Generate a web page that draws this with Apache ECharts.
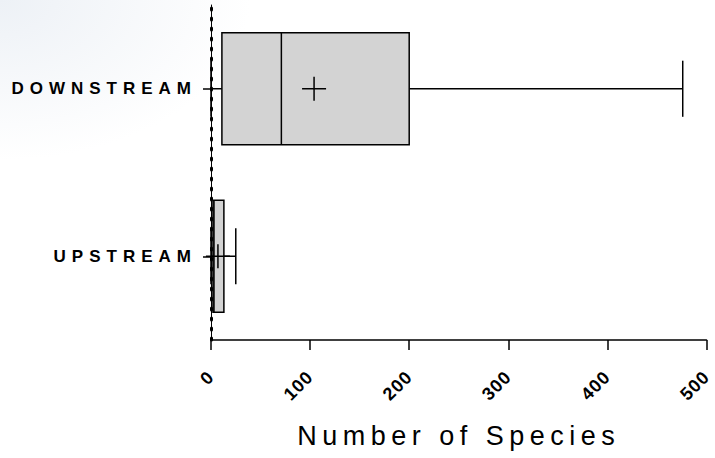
<!DOCTYPE html>
<html>
<head>
<meta charset="utf-8">
<script src="https://cdn.jsdelivr.net/npm/echarts@6/dist/echarts.min.js"></script>
<style>
    html, body { margin: 0; padding: 0; background: #fff; }
    #chart { width: 715px; height: 458px; }
</style>
</head>
<body>
<div id="chart"></div>
<script>
    // box plot values
    const categories = ['DOWNSTREAM', 'UPSTREAM']
    const minVals = [0, 0]
    const q1Vals = [11, 2]
    const medianVals = [71, 3]
    const q3Vals = [200, 13]
    const maxVals = [476, 25]
    const meanVals = [104, 7]
    const xTicks = [0, 100, 200, 300, 400, 500]

    // letter spacing the original uses, applied to the svg text afterwards
    const spacing = {
        'DOWNSTREAM': 6,
        'UPSTREAM': 6,
        'Number of Species': 5.5
    }

    const data = categories.map((c, i) => [i, minVals[i], q1Vals[i], medianVals[i], q3Vals[i], maxVals[i], meanVals[i]])

    const chartDom = document.getElementById('chart')
    const myChart = echarts.init(chartDom, null, { renderer: 'svg' })

    function renderBox(params, api) {
        const cat = api.value(0)
        const band = api.size([0, 1])[1]
        const boxH = band * 0.67
        const capH = boxH / 2
        const y = api.coord([0, cat])[1]
        const px = (v) => api.coord([v, cat])[0]
        const xMin = px(api.value(1))
        const xQ1 = px(api.value(2))
        const xMed = px(api.value(3))
        const xQ3 = px(api.value(4))
        const xMax = px(api.value(5))
        const xMean = px(api.value(6))
        const line = { stroke: '#000', lineWidth: 1.5, fill: null }
        const cross = 12
        return {
            type: 'group',
            children: [
                { type: 'line', shape: { x1: xMin, y1: y, x2: xQ1, y2: y }, style: line },
                { type: 'line', shape: { x1: xQ3, y1: y, x2: xMax, y2: y }, style: line },
                { type: 'line', shape: { x1: xMin, y1: y - capH / 2, x2: xMin, y2: y + capH / 2 }, style: line },
                { type: 'line', shape: { x1: xMax, y1: y - capH / 2, x2: xMax, y2: y + capH / 2 }, style: line },
                {
                    type: 'rect',
                    shape: { x: xQ1, y: y - boxH / 2, width: xQ3 - xQ1, height: boxH },
                    style: { fill: '#d3d3d3', stroke: '#000', lineWidth: 1.5 }
                },
                { type: 'line', shape: { x1: xMed, y1: y - boxH / 2, x2: xMed, y2: y + boxH / 2 }, style: line },
                { type: 'line', shape: { x1: xMean - cross, y1: y, x2: xMean + cross, y2: y }, style: line },
                { type: 'line', shape: { x1: xMean, y1: y - cross, x2: xMean, y2: y + cross }, style: line }
            ]
        }
    }

    const option = {
        animation: false,
        backgroundColor: {
            type: 'radial', x: 0, y: 0, r: 0.35,
            colorStops: [{ offset: 0, color: '#edf1f6' }, { offset: 1, color: '#ffffff' }]
        },
        grid: { left: 211, right: 4, top: 5, bottom: 118 },
        xAxis: {
            type: 'value',
            min: 0,
            max: 500,
            interval: 100,
            name: 'Number of Species',
            nameLocation: 'middle',
            nameGap: 82,
            nameTextStyle: { fontFamily: 'Arial', fontSize: 27, color: '#000' },
            axisLine: { show: true, onZero: false, lineStyle: { color: '#000', width: 1.5 } },
            axisTick: { show: true, length: 10, lineStyle: { color: '#000', width: 1.5 } },
            axisLabel: {
                rotate: 45,
                margin: 34,
                fontFamily: 'Arial',
                fontWeight: 'bold',
                fontSize: 18,
                color: '#000',
                formatter: (v) => xTicks.includes(v) ? String(v) : ''
            },
            splitLine: { show: false }
        },
        yAxis: [{
            type: 'category',
            data: categories,
            inverse: true,
            axisLine: { show: true, lineStyle: { color: '#000', width: 1 } },
            axisTick: { show: true, alignWithLabel: true, length: 8, lineStyle: { color: '#000', width: 1.5 } },
            axisLabel: {
                margin: 14,
                fontFamily: 'Arial',
                fontWeight: 'bold',
                fontSize: 17,
                color: '#000'
            },
            splitLine: { show: false }
        }, {
            // dotted overlay on the y axis line
            type: 'value',
            position: 'left',
            offset: 0,
            axisLine: { show: true, lineStyle: { color: '#000', width: 3, type: [2, 8] } },
            axisTick: { show: false },
            axisLabel: { show: false },
            splitLine: { show: false }
        }],
        series: [{
            type: 'custom',
            renderItem: renderBox,
            encode: { x: [1, 2, 3, 4, 5, 6], y: 0 },
            data: data,
            z: 3
        }]
    }

    myChart.on('rendered', () => {
        chartDom.querySelectorAll('text').forEach((t) => {
            const s = spacing[t.textContent]
            if (s) t.setAttribute('letter-spacing', s)
            else if (/^\d+$/.test(t.textContent)) t.setAttribute('letter-spacing', 1)
        })
    })
    myChart.setOption(option)
</script>
</body>
</html>
